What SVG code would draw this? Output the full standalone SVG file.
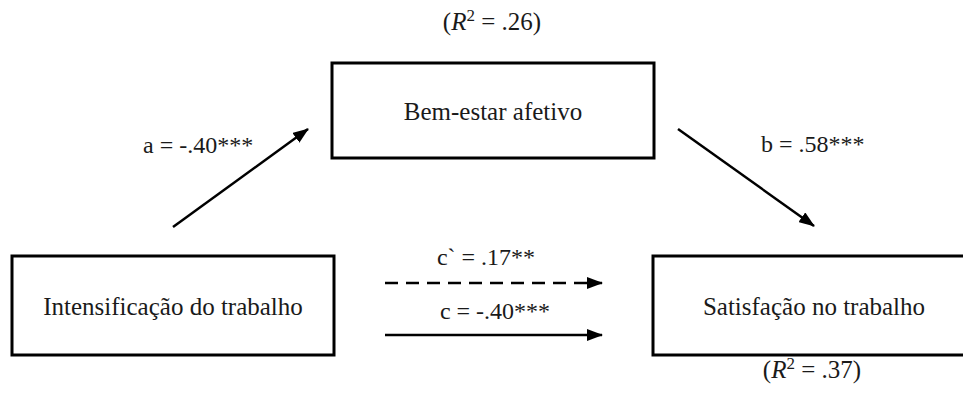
<svg xmlns="http://www.w3.org/2000/svg" width="963" height="409" viewBox="0 0 963 409">
<style>
.box{fill:#fff;stroke:#000;stroke-width:3}
text{font-family:"Liberation Serif","Times New Roman",serif;font-size:25px;fill:#1a1a1a}
.lbl{font-size:24px}
.r2{font-size:25px}
.conn{stroke:#000;stroke-width:2.5;fill:none}
.dash{stroke-dasharray:13 8}
</style>
<defs>
<marker id="ah" markerUnits="userSpaceOnUse" markerWidth="16" markerHeight="12" refX="15" refY="6" orient="auto">
<path d="M0,0 L16,6 L0,12 Z" fill="#000"/>
</marker>
</defs>
<g id="r2-mediator">
<text class="r2" x="492" y="30" text-anchor="middle">(<tspan font-style="italic">R</tspan><tspan baseline-shift="super" font-size="17">2</tspan> = .26)</text>
</g>
<g id="node-mediator">
<rect class="box" x="332" y="63" width="322" height="95"/>
<text x="493" y="120" text-anchor="middle">Bem-estar afetivo</text>
</g>
<g id="node-x">
<rect class="box" x="12" y="256" width="322" height="99"/>
<text x="173" y="315" text-anchor="middle">Intensificação do trabalho</text>
</g>
<g id="node-y">
<rect class="box" x="653" y="256" width="322" height="99"/>
<text x="814" y="315" text-anchor="middle">Satisfação no trabalho</text>
<text class="r2" x="812" y="378" text-anchor="middle">(<tspan font-style="italic">R</tspan><tspan baseline-shift="super" font-size="17">2</tspan> = .37)</text>
</g>
<g id="connectors">
<line class="conn" x1="173" y1="227" x2="308" y2="129" marker-end="url(#ah)"/>
<line class="conn" x1="678" y1="129" x2="814" y2="226" marker-end="url(#ah)"/>
<line class="conn dash" x1="385" y1="283" x2="602" y2="283" marker-end="url(#ah)"/>
<line class="conn" x1="385" y1="335" x2="602" y2="335" marker-end="url(#ah)"/>
<text class="lbl" x="143" y="153">a = -.40***</text>
<text class="lbl" x="761" y="152">b = .58***</text>
<text class="lbl" x="486" y="265" text-anchor="middle">c` = .17**</text>
<text class="lbl" x="495" y="319" text-anchor="middle">c = -.40***</text>
</g>
</svg>
